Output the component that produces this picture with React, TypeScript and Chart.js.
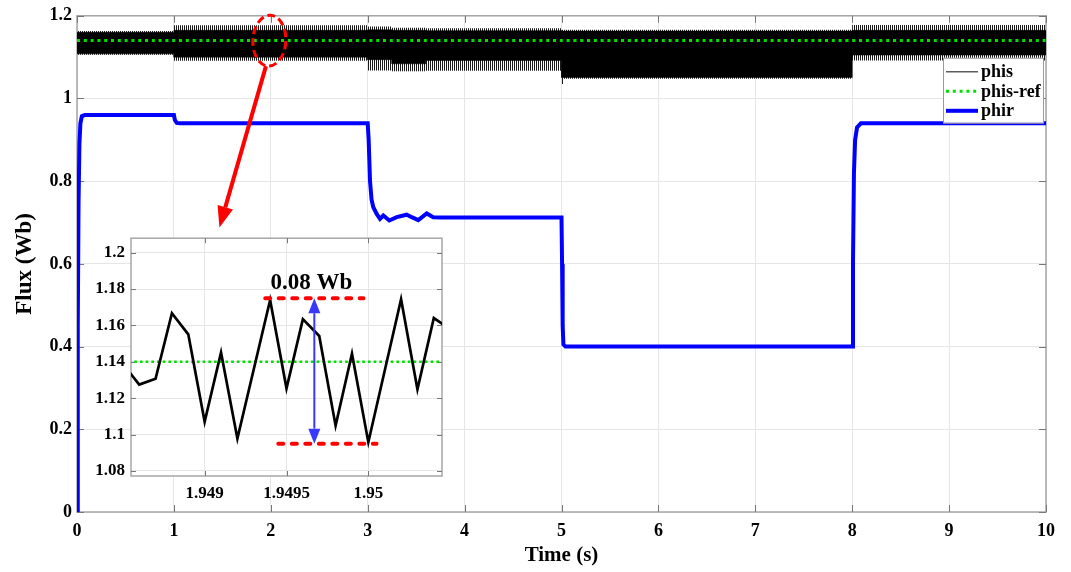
import React, { useEffect, useRef } from "react";
import { Chart, registerables } from "chart.js";

Chart.register(...registerables);

const SERIF = '"Liberation Serif", "Times New Roman", serif';

// ---- main axes ----
const timeTicks = [0, 1, 2, 3, 4, 5, 6, 7, 8, 9, 10];
const fluxTicks = [0, 0.2, 0.4, 0.6, 0.8, 1, 1.2];

// stator flux reference (Wb)
const phisRef = 1.14;

// stator flux ripple band: segment edges (s) and envelope levels (Wb)
const bandEdges = [0, 1, 3, 3.25, 3.6, 5, 5.02, 8, 10];
const phisCoreHi = [1.16, 1.165, 1.166, 1.165, 1.164, 1.163, 1.163, 1.165];
const phisCoreLo = [1.108, 1.1, 1.094, 1.084, 1.092, 1.051, 1.051, 1.105];
const phisPeakHi = [1.163, 1.177, 1.174, 1.171, 1.17, 1.166, 1.166, 1.178];
const phisPeakLo = [1.106, 1.091, 1.068, 1.066, 1.067, 1.035, 1.048, 1.092];

// rotor flux phir
const phirTime = [
  0, 0.008, 0.016, 0.025, 0.035, 0.05, 0.08, 1.0, 1.01, 1.03, 1.06, 3.0, 3.01, 3.024, 3.04,
  3.058, 3.093, 3.127, 3.161, 3.223, 3.299, 3.402, 3.454, 3.522, 3.609, 3.677, 3.75, 5.0,
  5.006, 5.012, 5.02, 5.04, 8.0, 8.008, 8.018, 8.03, 8.05, 8.09, 10,
];
const phirValue = [
  0, 0.45, 0.75, 0.89, 0.94, 0.957, 0.96, 0.96, 0.948, 0.941, 0.94, 0.94, 0.9, 0.8, 0.755,
  0.737, 0.721, 0.709, 0.717, 0.705, 0.713, 0.719, 0.713, 0.706, 0.722, 0.713, 0.712, 0.712,
  0.6, 0.45, 0.405, 0.4, 0.4, 0.6, 0.82, 0.9, 0.93, 0.94, 0.94,
];

// ---- zoomed window around t = 1.95 s ----
const zoomTime = [
  1.9485, 1.9486, 1.9487, 1.9488, 1.9489, 1.949, 1.9491, 1.9492, 1.9494, 1.9495, 1.9496,
  1.9497, 1.9498, 1.9499, 1.95, 1.9502, 1.9503, 1.9504, 1.9505,
];
const zoomPhis = [
  1.139, 1.1275, 1.1307, 1.1667, 1.1551, 1.1071, 1.1452, 1.0978, 1.174, 1.1254, 1.1635,
  1.1542, 1.1049, 1.1445, 1.0958, 1.1744, 1.1249, 1.1641, 1.158,
];
const zoomTimeTicks = [1.949, 1.9495, 1.95];
const zoomFluxTicks = [1.08, 1.1, 1.12, 1.14, 1.16, 1.18, 1.2];
const zoomPeak = 1.175;
const zoomTrough = 1.095;
const zoomPeakSpan = [1.94937, 1.94997];
const zoomTroughSpan = [1.94945, 1.95005];
const zoomArrowTime = 1.94967;

const stepPoints = (vals: number[]) =>
  vals.flatMap((v, i) => [
    { x: bandEdges[i], y: v },
    { x: bandEdges[i + 1], y: v },
  ]);

const tickFont = (size: number) => ({ family: SERIF, weight: "bold" as const, size });

function arrowHead(ctx: CanvasRenderingContext2D, x0: number, y0: number, x1: number, y1: number, len: number, half: number) {
  const a = Math.atan2(y1 - y0, x1 - x0);
  const bx = x1 - len * Math.cos(a);
  const by = y1 - len * Math.sin(a);
  ctx.beginPath();
  ctx.moveTo(x1, y1);
  ctx.lineTo(bx + half * Math.sin(a), by - half * Math.cos(a));
  ctx.lineTo(bx - half * Math.sin(a), by + half * Math.cos(a));
  ctx.closePath();
  ctx.fill();
  return [bx, by];
}

function frameAndTicks(chart: any, xs: number[], ys: number[], tickLen: number) {
  const { ctx, chartArea: a, scales } = chart;
  ctx.save();
  ctx.strokeStyle = "#a6a6a6";
  ctx.lineWidth = 1.5;
  ctx.strokeRect(a.left, a.top, a.right - a.left, a.bottom - a.top);
  ctx.strokeStyle = "#777";
  ctx.lineWidth = 1;
  ctx.beginPath();
  for (const t of xs) {
    const x = Math.round(scales.x.getPixelForValue(t)) + 0.5;
    ctx.moveTo(x, a.bottom);
    ctx.lineTo(x, a.bottom - tickLen);
    ctx.moveTo(x, a.top);
    ctx.lineTo(x, a.top + tickLen);
  }
  for (const v of ys) {
    const y = Math.round(scales.y.getPixelForValue(v)) + 0.5;
    ctx.moveTo(a.left, y);
    ctx.lineTo(a.left + tickLen, y);
    ctx.moveTo(a.right, y);
    ctx.lineTo(a.right - tickLen, y);
  }
  ctx.stroke();
  ctx.restore();
}

const mainFrame = {
  id: "mainFrame",
  beforeDatasetsDraw(chart: any) {
    frameAndTicks(chart, timeTicks, fluxTicks, 7);
  },
  afterDatasetsDraw(chart: any) {
    const { ctx, scales } = chart;
    const X = (v: number) => scales.x.getPixelForValue(v);
    const Y = (v: number) => scales.y.getPixelForValue(v);
    // dashed ellipse marking the zoomed window
    const cx = X(1.985);
    const cy = Y(phisRef);
    const rx = X(1.985 + 0.17) - cx;
    const ry = cy - Y(phisRef + 0.0616);
    ctx.save();
    ctx.strokeStyle = "#ff0000";
    ctx.lineWidth = 3;
    ctx.setLineDash([8, 4]);
    ctx.beginPath();
    ctx.ellipse(cx, cy, rx, ry, 0.05, 0, Math.PI * 2);
    ctx.stroke();
    ctx.setLineDash([]);
    // pointer towards the zoomed plot
    const x0 = X(1.95);
    const y0 = cy + ry;
    const x1 = X(1.47);
    const y1 = Y(0.688);
    ctx.fillStyle = "#ff0000";
    const [bx, by] = arrowHead(ctx, x0, y0, x1, y1, 21, 8);
    ctx.lineWidth = 4;
    ctx.beginPath();
    ctx.moveTo(x0, y0);
    ctx.lineTo(bx, by);
    ctx.stroke();
    ctx.restore();
  },
  afterDraw(chart: any) {
    const { ctx, chartArea: a } = chart;
    const w = 100;
    const h = 65;
    const left = a.right - 3 - w;
    const top = a.top + 42;
    ctx.save();
    ctx.fillStyle = "#ffffff";
    ctx.fillRect(left, top, w, h);
    ctx.strokeStyle = "#9a9a9a";
    ctx.lineWidth = 1;
    ctx.strokeRect(left + 0.5, top + 0.5, w, h);
    const entries = [
      { label: "phis", color: "#333333", width: 1.2, dash: [] as number[] },
      { label: "phis-ref", color: "#00e000", width: 3, dash: [3, 3.8] },
      { label: "phir", color: "#0000ff", width: 4, dash: [] as number[] },
    ];
    ctx.font = `bold 18px ${SERIF}`;
    ctx.textBaseline = "middle";
    ctx.textAlign = "left";
    entries.forEach((e, i) => {
      const y = top + 14 + i * 19.5;
      ctx.strokeStyle = e.color;
      ctx.lineWidth = e.width;
      ctx.setLineDash(e.dash);
      ctx.beginPath();
      ctx.moveTo(left + 3, y);
      ctx.lineTo(left + 35, y);
      ctx.stroke();
      ctx.setLineDash([]);
      ctx.fillStyle = "#000";
      ctx.fillText(e.label, left + 38, y + 1);
    });
    ctx.restore();
  },
};

const zoomFrame = {
  id: "zoomFrame",
  beforeDraw(chart: any) {
    const { ctx, chartArea: a } = chart;
    ctx.save();
    ctx.fillStyle = "#ffffff";
    ctx.fillRect(a.left, a.top, a.right - a.left, a.bottom - a.top);
    ctx.restore();
  },
  beforeDatasetsDraw(chart: any) {
    frameAndTicks(chart, zoomTimeTicks, zoomFluxTicks, 5);
  },
  afterDatasetsDraw(chart: any) {
    const { ctx, scales } = chart;
    const X = (v: number) => scales.x.getPixelForValue(v);
    const Y = (v: number) => scales.y.getPixelForValue(v);
    ctx.save();
    // peak and trough markers
    ctx.strokeStyle = "#ff0000";
    ctx.lineWidth = 4;
    ctx.lineCap = "round";
    ctx.setLineDash([5, 8.5]);
    ctx.beginPath();
    ctx.moveTo(X(zoomPeakSpan[0]), Y(zoomPeak));
    ctx.lineTo(X(zoomPeakSpan[1]), Y(zoomPeak));
    ctx.moveTo(X(zoomTroughSpan[0]), Y(zoomTrough));
    ctx.lineTo(X(zoomTroughSpan[1]), Y(zoomTrough));
    ctx.stroke();
    ctx.setLineDash([]);
    ctx.lineCap = "butt";
    // double-headed arrow spanning the ripple
    const ax = X(zoomArrowTime);
    const yt = Y(zoomPeak);
    const yb = Y(zoomTrough);
    ctx.fillStyle = "#3838ff";
    ctx.strokeStyle = "#3838ff";
    const [, t1] = arrowHead(ctx, ax, yb, ax, yt, 15, 6);
    const [, t2] = arrowHead(ctx, ax, yt, ax, yb, 15, 6);
    ctx.lineWidth = 2;
    ctx.beginPath();
    ctx.moveTo(ax, t1);
    ctx.lineTo(ax, t2);
    ctx.stroke();
    // ripple magnitude
    ctx.fillStyle = "#000";
    ctx.font = `bold 23px ${SERIF}`;
    ctx.textAlign = "center";
    ctx.textBaseline = "alphabetic";
    ctx.fillText(`${(zoomPeak - zoomTrough).toFixed(2)} Wb`, ax - 3, yt - 9);
    ctx.restore();
  },
};

export default function App() {
  const mainRef = useRef<HTMLCanvasElement>(null);
  const zoomRef = useRef<HTMLCanvasElement>(null);

  useEffect(() => {
    const mainCanvas = mainRef.current!;
    const zoomCanvas = zoomRef.current!;
    const mctx = mainCanvas.getContext("2d")!;

    // vertical hatching for the sparse ripple fringe
    const tile = document.createElement("canvas");
    tile.width = 2;
    tile.height = 1;
    const tctx = tile.getContext("2d")!;
    tctx.fillStyle = "rgba(0,0,0,0.9)";
    tctx.fillRect(0, 0, 1, 1);
    const hatch = mctx.createPattern(tile, "repeat");

    const main = new Chart(mainCanvas, {
      type: "line",
      data: {
        datasets: [
          {
            label: "phis-fringe-hi",
            data: stepPoints(phisPeakHi),
            borderColor: "transparent",
            borderWidth: 0,
            backgroundColor: hatch as any,
            fill: 1,
            order: 4,
          },
          {
            label: "phis-fringe-lo",
            data: stepPoints(phisPeakLo),
            borderColor: "transparent",
            borderWidth: 0,
            fill: false,
            order: 4,
          },
          {
            label: "phis",
            data: stepPoints(phisCoreHi),
            borderColor: "#000",
            borderWidth: 0.5,
            backgroundColor: "#000",
            fill: 3,
            order: 3,
          },
          {
            label: "phis-lo",
            data: stepPoints(phisCoreLo),
            borderColor: "#000",
            borderWidth: 0.5,
            fill: false,
            order: 3,
          },
          {
            label: "phis-ref",
            data: [
              { x: timeTicks[0], y: phisRef },
              { x: timeTicks[timeTicks.length - 1], y: phisRef },
            ],
            borderColor: "#00e000",
            borderWidth: 3,
            borderDash: [3, 3.8],
            fill: false,
            order: 1,
          },
          {
            label: "phir",
            data: phirTime.map((t, i) => ({ x: t, y: phirValue[i] })),
            borderColor: "#0000ff",
            borderWidth: 4,
            fill: false,
            order: 0,
          },
        ],
      },
      options: {
        animation: false,
        responsive: false,
        devicePixelRatio: 1,
        events: [],
        layout: { padding: { top: 15, right: 25, bottom: 0, left: 0 } },
        elements: { point: { radius: 0 }, line: { tension: 0 } },
        plugins: { legend: { display: false }, tooltip: { enabled: false } },
        scales: {
          x: {
            type: "linear",
            min: 0,
            max: 10,
            afterBuildTicks: (s: any) => {
              s.ticks = timeTicks.map((value) => ({ value }));
            },
            afterFit: (s: any) => {
              s.height = 60;
            },
            ticks: {
              autoSkip: false,
              maxRotation: 0,
              padding: 9,
              color: "#000",
              font: tickFont(18),
              callback: (v: any) => String(v),
            },
            grid: { color: "#e6e6e6", drawTicks: false },
            border: { display: false },
            title: {
              display: true,
              text: "Time (s)",
              color: "#000",
              font: tickFont(21),
              padding: { top: 0, bottom: 4 },
            },
          },
          y: {
            type: "linear",
            min: 0,
            max: 1.2,
            afterBuildTicks: (s: any) => {
              s.ticks = fluxTicks.map((value) => ({ value }));
            },
            afterFit: (s: any) => {
              s.width = 77;
            },
            ticks: {
              autoSkip: false,
              padding: 5,
              color: "#000",
              font: tickFont(18),
              callback: (v: any) => String(v),
            },
            grid: { color: "#e6e6e6", drawTicks: false },
            border: { display: false },
            title: {
              display: true,
              text: "Flux (Wb)",
              color: "#000",
              font: tickFont(23),
              padding: { top: 11, bottom: 0 },
            },
          },
        },
      },
      plugins: [mainFrame],
    } as any);

    const zoom = new Chart(zoomCanvas, {
      type: "line",
      data: {
        datasets: [
          {
            label: "phis-ref",
            data: [
              { x: zoomTime[0], y: phisRef },
              { x: zoomTime[zoomTime.length - 1], y: phisRef },
            ],
            borderColor: "#00e000",
            borderWidth: 2.5,
            borderDash: [2.7, 3],
            fill: false,
            order: 1,
          },
          {
            label: "phis",
            data: zoomTime.map((t, i) => ({ x: t, y: zoomPhis[i] })),
            borderColor: "#000",
            borderWidth: 2.7,
            fill: false,
            order: 0,
          },
        ],
      },
      options: {
        animation: false,
        responsive: false,
        devicePixelRatio: 1,
        events: [],
        layout: { padding: { top: 9, right: 18, bottom: 0, left: 0 } },
        elements: { point: { radius: 0 }, line: { tension: 0 } },
        plugins: { legend: { display: false }, tooltip: { enabled: false } },
        scales: {
          x: {
            type: "linear",
            min: 1.94855,
            max: 1.95045,
            afterBuildTicks: (s: any) => {
              s.ticks = zoomTimeTicks.map((value) => ({ value }));
            },
            afterFit: (s: any) => {
              s.height = 36;
            },
            ticks: {
              autoSkip: false,
              maxRotation: 0,
              padding: 7,
              color: "#000",
              font: tickFont(17),
              callback: (v: any) => String(v),
            },
            grid: { color: "#e6e6e6", drawTicks: false },
            border: { display: false },
          },
          y: {
            type: "linear",
            min: 1.0772,
            max: 1.208,
            afterBuildTicks: (s: any) => {
              s.ticks = zoomFluxTicks.map((value) => ({ value }));
            },
            afterFit: (s: any) => {
              s.width = 51;
            },
            ticks: {
              autoSkip: false,
              padding: 6,
              color: "#000",
              font: tickFont(17),
              callback: (v: any) => String(v),
            },
            grid: { color: "#e6e6e6", drawTicks: false },
            border: { display: false },
          },
        },
      },
      plugins: [zoomFrame],
    } as any);

    return () => {
      main.destroy();
      zoom.destroy();
    };
  }, []);

  return (
    <div style={{ position: "absolute", left: 0, top: 0, width: 1071, height: 572, background: "#fff" }}>
      <canvas ref={mainRef} width={1071} height={572} style={{ position: "absolute", left: 0, top: 0, display: "block" }} />
      <canvas ref={zoomRef} width={380} height={290} style={{ position: "absolute", left: 80, top: 222, display: "block" }} />
    </div>
  );
}
